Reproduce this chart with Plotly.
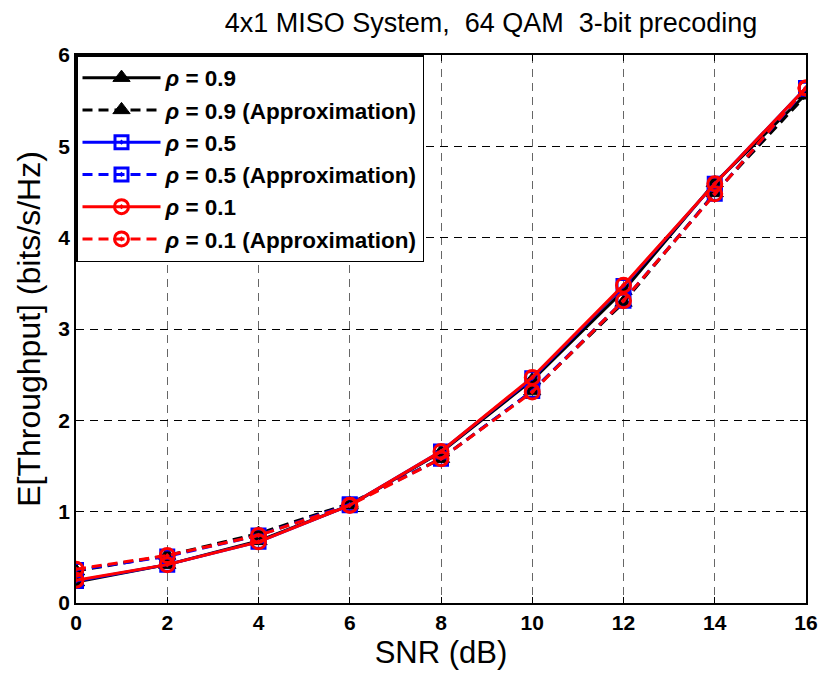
import plotly.graph_objects as go

snr = [0, 2, 4, 6, 8, 10, 12, 14, 16]
rho09 = [0.23, 0.42, 0.68, 1.07, 1.65, 2.44, 3.42, 4.60, 5.57]
rho09_app = [0.35, 0.52, 0.76, 1.09, 1.58, 2.32, 3.29, 4.49, 5.56]
rho05 = [0.24, 0.42, 0.67, 1.07, 1.66, 2.46, 3.47, 4.59, 5.64]
rho05_app = [0.36, 0.51, 0.74, 1.08, 1.58, 2.32, 3.31, 4.48, 5.63]
rho01 = [0.25, 0.42, 0.67, 1.07, 1.66, 2.47, 3.48, 4.59, 5.64]
rho01_app = [0.37, 0.52, 0.74, 1.07, 1.58, 2.31, 3.31, 4.48, 5.64]

names = ["<i>ρ</i> = 0.9", "<i>ρ</i> = 0.9 (Approximation)",
         "<i>ρ</i> = 0.5", "<i>ρ</i> = 0.5 (Approximation)",
         "<i>ρ</i> = 0.1", "<i>ρ</i> = 0.1 (Approximation)"]
series = [rho09, rho09_app, rho05, rho05_app, rho01, rho01_app]
colors = ["black", "black", "#0000ff", "#0000ff", "#ff0000", "#ff0000"]
dashes = ["solid", "10px,6px", "solid", "10px,6px", "solid", "10px,6px"]
symbols = ["triangle-up", "triangle-up", "square-open-dot", "square-open-dot",
           "circle-open-dot", "circle-open-dot"]
msizes = [15, 15, 13, 13, 14, 14]

fig = go.Figure()
for nm, y, c, d, s, ms in zip(names, series, colors, dashes, symbols, msizes):
    if s.startswith("circle"):
        marker = dict(symbol=s, size=ms, color=c, line=dict(color=c, width=3))
    elif s.startswith("square"):
        marker = dict(symbol=s, size=ms, color=c, line=dict(color=c, width=3))
    else:
        marker = dict(symbol=s, size=ms, color=c, line=dict(color=c, width=1))
    fig.add_trace(go.Scatter(x=snr, y=y, name=nm, mode="lines+markers",
                             line=dict(color=c, width=3, dash=d), marker=marker))

fig.update_layout(
    width=829, height=675,
    paper_bgcolor="white", plot_bgcolor="white",
    margin=dict(l=76, r=11, t=55, b=72),
    title=dict(text="4x1 MISO System,  64 QAM  3-bit precoding",
               x=491 / 829, xanchor="center", xref="container",
               y=1 - 13 / 675, yanchor="top",
               font=dict(family="Liberation Sans, Arial", size=27, color="black")),
    font=dict(family="Liberation Sans, Arial", color="black"),
    xaxis=dict(range=[0, 16], tickvals=snr, ticktext=[str(v) for v in snr],
               showgrid=True, gridcolor="#666666", griddash="8px,6px", gridwidth=1,
               showline=True, linecolor="black", linewidth=1.5, mirror="ticks",
               ticks="inside", ticklen=6, tickcolor="black",
               tickfont=dict(size=21, family="Liberation Sans, Arial", weight="bold"),
               title=dict(text="SNR (dB)",
                          font=dict(size=31, family="Liberation Sans, Arial"),
                          standoff=8),
               zeroline=False),
    yaxis=dict(range=[0, 6], tickvals=[0, 1, 2, 3, 4, 5, 6],
               showgrid=True, gridcolor="black", griddash="8px,6px", gridwidth=1,
               showline=True, linecolor="black", linewidth=1.5, mirror="ticks",
               ticks="inside", ticklen=6, tickcolor="black",
               tickfont=dict(size=21, family="Liberation Sans, Arial", weight="bold"),
               title=dict(text="E[Throughput] (bits/s/Hz)",
                          font=dict(size=32, family="Liberation Sans, Arial"), standoff=8),
               zeroline=False),
    legend=dict(x=0, y=1, xanchor="left", yanchor="top",
                bgcolor="white", bordercolor="black", borderwidth=1.5,
                font=dict(size=22.5, family="Liberation Sans, Arial", weight="bold"),
                itemwidth=78, tracegroupgap=0),
    showlegend=True,
)

fig.write_html("out.html")
